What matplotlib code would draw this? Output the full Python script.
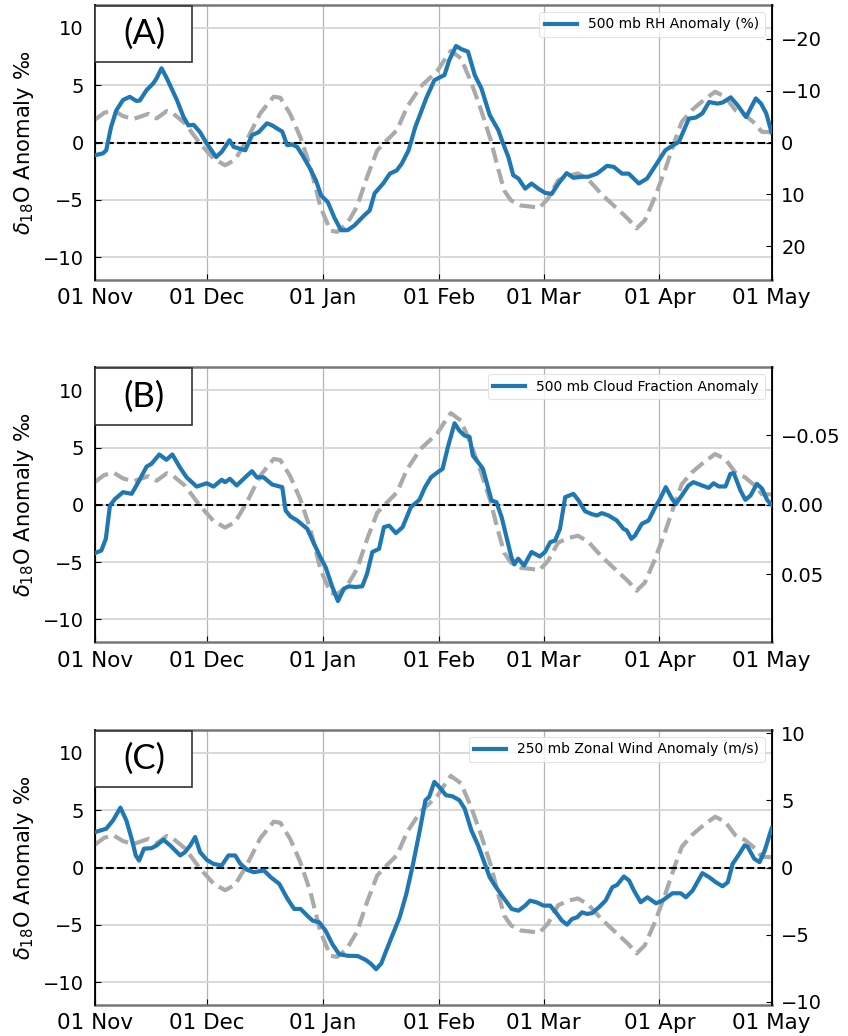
import numpy as np
import matplotlib
matplotlib.use("Agg")
import matplotlib.pyplot as plt
import matplotlib.dates as mdates
from matplotlib.patches import Rectangle
import datetime as dt

# ---------------- data (day offsets since 01 Nov) ----------------
start_date = dt.datetime(2018, 11, 1)
month_ticks = ["2018-11-01", "2018-12-01", "2019-01-01", "2019-02-01",
               "2019-03-01", "2019-04-01", "2019-05-01"]

# d18O anomaly (left axis, grey dashed) - same in every panel
d18o_days = [0, 2.5, 5, 7.5, 10.3, 12.5, 14.3, 16.5, 19.2, 21, 24.1, 28.1, 31.7,
             34.8, 37.5, 40.6, 44.2, 47.8, 49.6, 52.2, 54.9, 57.6, 60.3, 63, 64.8,
             67.4, 70.1, 72.8, 75.5, 78.1, 80.8, 83.5, 87.1, 89.5, 91.7, 93.5, 95.2,
             97.9, 100.6, 103.3, 105.9, 107.7, 109.5, 111.3, 114, 116.7, 118.9,
             121.2, 123.9, 126.6, 129.2, 131.9, 135.5, 139.1, 142.6, 144.9, 147.1,
             149.8, 152.5, 155.2, 157, 159.6, 162.3, 165.9, 168.6, 171.3, 173.9,
             176.6, 178.4, 181]
d18o_vals = [2.0, 2.6, 2.8, 2.3, 2.05, 2.3, 2.5, 2.1, 2.75, 2.5, 1.66, -0.09, -1.4,
             -1.99, -1.5, 0.2, 2.54, 4.0, 3.9, 2.5, 0.5, -2.1, -5.6, -7.7, -7.8,
             -7.1, -5.6, -3.0, -0.7, 0.2, 1.08, 3.1, 4.87, 5.6, 6.3, 7.2, 8.0,
             7.35, 5.3, 2.83, 0.2, -2.1, -4.2, -5.05, -5.5, -5.6, -5.7,
             -4.9, -3.3, -2.9, -2.7, -3.2, -4.5, -5.6, -6.65, -7.5, -6.8,
             -4.76, -2.4, 0.2, 1.8, 2.8, 3.55, 4.43, 4.0, 2.83, 2.4,
             1.66, 0.93, 0.9]

# (A) 500 mb RH anomaly (%)
rh_days = [0, 2.1, 3, 4.3, 5.7, 7.5, 9.3, 11.1, 12, 13.8, 15.6, 16.5, 17.8, 19.2,
           21.9, 23.7, 25, 26.4, 28.1, 29.9, 32.4, 33.9, 36, 37.1, 40.2, 42, 43.8,
           46, 47.4, 48.7, 50.1, 51.4, 52.8, 54.1, 55.5, 57.3, 59.1, 60.5, 62.3, 64,
           65.8, 67.6, 69.4, 72.1, 73.5, 74.8, 77.1, 78.9, 80.7, 82.1, 83.9, 85.7,
           87.4, 88.6, 90.8, 92.1, 93.5, 94.8, 96.6, 98, 99.8, 101.6, 103.4, 105.6,
           107.9, 109.2, 110.6, 111.9, 113.3, 115.1, 116.8, 118.6, 120.4, 122.2,
           124, 126.2, 128, 130.3, 132, 134.3, 137, 138.8, 141, 142.8, 145.5, 147.7,
           150, 152.6, 154.4, 156.2, 158.9, 160.7, 162.5, 164.3, 166.5, 167.9,
           170.1, 171.9, 174.2, 176.8, 178.2, 179.6, 181]
rh_vals = [2.45, 2.1, 1.5, -3.0, -6.2, -8.2, -8.8, -8.0, -8.1, -10.1, -11.4, -12.4,
           -14.3, -12.4, -8.2, -4.9, -3.3, -3.4, -2.0, 0.2, 2.8, 1.8, -0.44, 0.85,
           1.5, -1.4, -2.0, -3.7, -3.3, -2.7, -2.1, 0.5, 0.4, 0.85, 2.45, 4.7, 7.3,
           10.2, 11.5, 14.4, 16.9, 16.9, 16.0, 14.0, 13.1, 9.8, 7.9, 6.0, 5.4, 4.05,
           1.5, -3.0, -6.2, -8.5, -12.0, -12.5, -13.0, -15.9, -18.6, -18.0, -17.5,
           -13.0, -10.4, -5.3, -2.4, 0.2, 2.8, 6.3, 6.95, 8.9, 7.9, 8.9, 9.7, 9.9,
           7.9, 5.9, 6.8, 6.6, 6.6, 6.0, 4.5, 4.7, 6.0, 6.0, 7.9, 6.95, 4.4, 1.5,
           0.65, -0.1, -4.6, -4.8, -5.6, -7.8, -7.5, -7.7, -8.7, -7.2, -4.9, -8.5,
           -7.5, -5.6, -2.0]

# (B) 500 mb cloud fraction anomaly
cf_days = [0, 1.7, 2.9, 4, 5.4, 7.5, 9.8, 11.6, 13.8, 15.1, 17.2, 19.1, 20.7, 22.7,
           24.5, 27.2, 29.9, 31.7, 33.9, 34.8, 36.1, 37.9, 40.2, 42, 43.3, 45.1,
           47.4, 50.1, 51, 52.3, 54.1, 56.8, 58.6, 60.3, 61.7, 63.5, 65, 66.6, 67.9,
           69.7, 71.5, 72.8, 74.2, 76, 77.3, 78.7, 80.5, 82.3, 84.5, 86.8, 88.3,
           89.9, 91.7, 93, 94.4, 96.2, 97.5, 98.9, 100.2, 101.1, 102.5, 103.8,
           106.1, 107.4, 108.8, 110.1, 111.4, 112.2, 113.2, 114.8, 116.8, 119,
           120.4, 121.8, 123.1, 124.4, 125.8, 128, 129.4, 131.1, 132.9, 134.3,
           135.6, 137.4, 139.6, 141.4, 142.3, 143.5, 144.5, 146.3, 148.1, 149.9,
           151.2, 152.7, 154.4, 155.4, 157, 158.8, 160.1, 162.4, 164.2, 165.5,
           166.9, 168.7, 170, 170.9, 172.7, 174, 175.4, 177.1, 178.5, 179.8, 181]
cf_vals = [0.0348, 0.0329, 0.0245, 0.0005, -0.0043, -0.0091, -0.0079, -0.0163,
           -0.0275, -0.0295, -0.0362, -0.0324, -0.0362, -0.027, -0.0198, -0.0131,
           -0.0155, -0.0131, -0.018, -0.0163, -0.0187, -0.0139, -0.0198, -0.0242,
           -0.0198, -0.0198, -0.0146, -0.0127, 0.0041, 0.0084, 0.0113, 0.0173,
           0.028, 0.0377, 0.0449, 0.0592, 0.0693, 0.0604, 0.0587, 0.0592, 0.0587,
           0.0496, 0.034, 0.0317, 0.0161, 0.0150, 0.0204, 0.0161, 0.0017, -0.0036,
           -0.0127, -0.0198, -0.0235, -0.0259, -0.0414, -0.0587, -0.0534, -0.0498,
           -0.0490, -0.0354, -0.0306, -0.0259, -0.0031, -0.0019, 0.0089, 0.0233,
           0.0377, 0.0429, 0.0388, 0.0437, 0.034, 0.0372, 0.034, 0.0269, 0.0257,
           0.0173, -0.0055, -0.0079, -0.0031, 0.0046, 0.0067, 0.0077, 0.0060,
           0.0077, 0.0113, 0.0173, 0.0185, 0.0245, 0.0221, 0.0137, 0.0113, 0.0017,
           -0.0043, -0.0127, -0.0043, -0.0007, -0.0067, -0.0139, -0.0163, -0.0139,
           -0.0122, -0.0155, -0.0132, -0.0132, -0.0223, -0.0228, -0.0103, -0.0036,
           -0.0067, -0.0151, -0.0115, -0.0036, 0.0]

# (C) 250 mb zonal wind anomaly (m/s)
uw_days = [0, 3, 4.8, 6.8, 8.4, 9.8, 10.9, 11.8, 13.1, 15.1, 16.5, 18.3, 20.1, 22.8,
           24.1, 25.5, 26.8, 28.1, 29.9, 31.7, 33.9, 35.7, 37.5, 38.9, 40.7, 42.5,
           45.2, 47, 49.3, 51.5, 53.3, 55, 56.8, 58.2, 60, 61.7, 63.5, 65.3, 67.6,
           70.3, 72.5, 73.9, 75.2, 76.6, 77.9, 79.7, 81.5, 83.3, 85.1, 86.9, 88.4,
           89.4, 90.8, 92.1, 93.9, 95.7, 97.5, 98.9, 100.7, 102.5, 104.3, 105.6, 107,
           109.2, 111.5, 113.3, 115.1, 116.4, 118.2, 120, 121.8, 123.6, 124.9, 126.3,
           127.6, 129, 130.3, 131.6, 133, 134.8, 136.6, 138.4, 139.7, 141.5, 142.9,
           144.2, 146, 147.8, 150.1, 151.8, 154.5, 156.7, 158.1, 159.9, 162.5, 164.3,
           166.1, 167.9, 169.3, 170.6, 172.4, 173.8, 174.6, 176.4, 177.8, 179.2, 181]
uw_vals = [2.64, 2.89, 3.5, 4.46, 3.5, 2.15, 0.9, 0.52, 1.4, 1.44, 1.65, 2.07, 1.65,
           0.9, 1.15, 1.65, 2.27, 1.15, 0.57, 0.27, 0.15, 0.9, 0.9, 0.27, -0.17,
           -0.35, -0.22, -0.72, -1.22, -2.34, -3.09, -3.09, -3.59, -3.96, -4.09,
           -4.71, -5.71, -6.46, -6.58, -6.6, -6.9, -7.2, -7.58, -7.15, -6.21, -4.96,
           -3.72, -1.97, 0.27, 2.77, 5.01, 5.26, 6.38, 6.0, 5.39, 5.3, 5.01, 4.39,
           2.77, 1.65, 0.27, -0.72, -1.35, -2.22, -3.09, -3.22, -2.84, -2.47, -2.6,
           -2.84, -2.84, -3.46, -3.96, -4.26, -3.84, -3.71, -3.34, -3.46, -3.4,
           -2.97, -2.47, -1.47, -1.3, -0.67, -0.97, -1.72, -2.59, -2.22, -2.67,
           -2.47, -1.92, -1.92, -2.22, -1.72, -0.42, -0.72, -1.1, -1.4, -1.1, 0.27,
           1.02, 1.65, 1.55, 0.65, 0.4, 1.27, 2.89]

panels = [
    dict(label="(A)", legend="500 mb RH Anomaly (%)", days=rh_days, vals=rh_vals,
         rlim=(26.5, -26.5), rticks=[-20, -10, 0, 10, 20], rfmt="{:g}"),
    dict(label="(B)", legend="500 mb Cloud Fraction Anomaly", days=cf_days, vals=cf_vals,
         rlim=(0.099, -0.099), rticks=[-0.05, 0.0, 0.05], rfmt="{:.2f}"),
    dict(label="(C)", legend="250 mb Zonal Wind Anomaly (m/s)", days=uw_days, vals=uw_vals,
         rlim=(-10.25, 10.25), rticks=[-10, -5, 0, 5, 10], rfmt="{:g}"),
]

# ---------------- figure ----------------
plt.rcParams['font.family'] = ['DejaVu Sans']
plt.rcParams['axes.unicode_minus'] = True
fig = plt.figure(figsize=(8.48, 10.36), dpi=100)

x0 = mdates.date2num(start_date)
tick_nums = [mdates.date2num(dt.datetime.strptime(s, "%Y-%m-%d")) for s in month_ticks]
tick_labels = [dt.datetime.strptime(s, "%Y-%m-%d").strftime("%d %b") for s in month_ticks]

left, width = 95 / 848, (771.5 - 95) / 848
tops = [5, 367.3, 730]
height_px = 275

blue = "#1f77b4"
spine_gray = "#777777"

for p, top in zip(panels, tops):
    bottom = 1 - (top + height_px) / 1036
    ax = fig.add_axes([left, bottom, width, height_px / 1036])
    ax.set_facecolor("white")
    gx = x0 + np.asarray(d18o_days, dtype=float)
    ax.plot(gx, d18o_vals, color="#aaaaaa", lw=3.0, ls="--", zorder=3)
    ax.axhline(0, color="black", lw=1.5, ls="--", zorder=4)
    ax.set_ylim(-12, 12)
    ax.set_yticks([-10, -5, 0, 5, 10])
    ax.set_xlim(tick_nums[0], tick_nums[-1])
    ax.set_xticks(tick_nums)
    ax.set_xticklabels(tick_labels)
    ax.grid(True, axis="x", color="#b4b4b4", lw=0.9, zorder=0)
    ax.grid(True, axis="y", color="#d6d6d6", lw=1.3, zorder=0)
    ax.set_axisbelow(True)
    ax.tick_params(axis="both", direction="in", length=4, width=0.8, colors="black")
    ax.tick_params(axis="y", pad=8, labelsize=14)
    ax.tick_params(axis="x", pad=6, labelsize=15.5)
    ax.set_ylabel(r"$\delta_{18}$O Anomaly ‰", fontsize=15.2, labelpad=5)
    for s in ["top", "bottom"]:
        ax.spines[s].set_color(spine_gray)
        ax.spines[s].set_linewidth(1.8)
    ax.spines["left"].set_color("black")
    ax.spines["right"].set_color("black")

    ax2 = ax.twinx()
    bx = x0 + np.asarray(p["days"], dtype=float)
    ax2.plot(bx, p["vals"], color=blue, lw=3.0, label=p["legend"], zorder=5)
    ax2.set_ylim(*p["rlim"])
    ax2.set_yticks(p["rticks"])
    ax2.set_yticklabels([p["rfmt"].format(v).replace("-", "\u2212") for v in p["rticks"]])
    ax2.tick_params(axis="y", direction="in", length=4, width=0.8, labelsize=14, pad=7)
    ax2.set_xlim(tick_nums[0], tick_nums[-1])
    for s in ["top", "bottom"]:
        ax2.spines[s].set_visible(False)
    ax2.spines["right"].set_color("black")
    ax2.spines["left"].set_color("black")
    ax2.spines["left"].set_linewidth(1.3)
    ax2.spines["right"].set_linewidth(1.3)
    leg = ax2.legend(loc="upper right", fontsize=10, handlelength=2.3,
                     frameon=True, fancybox=True, borderaxespad=0.5)
    leg.get_frame().set_edgecolor("#dddddd")
    leg.get_frame().set_linewidth(0.8)

    # panel label box
    ax2.add_patch(Rectangle((0.0, 0.792), 0.143, 0.204, transform=ax2.transAxes,
                            facecolor="white", edgecolor="#333333", lw=1.2, zorder=10,
                            clip_on=False))
    ax2.text(0.0728, 0.894, p["label"], transform=ax2.transAxes, ha="center",
             va="center", fontsize=25, family=["Lato", "DejaVu Sans"], zorder=11)

fig.savefig("out.png", dpi=100)
